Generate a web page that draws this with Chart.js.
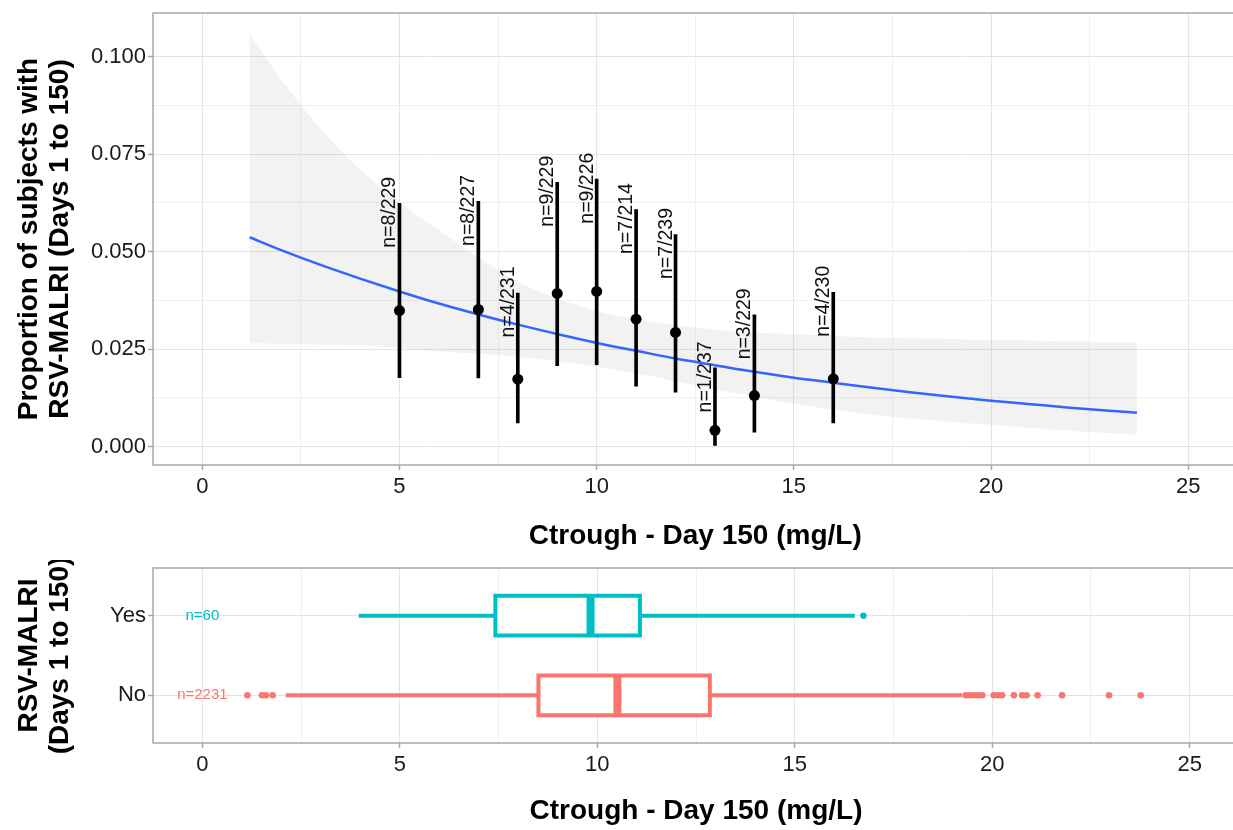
<!DOCTYPE html>
<html>
<head>
<meta charset="utf-8">
<script src="https://cdn.jsdelivr.net/npm/chart.js@4"></script>
<style>
  html, body { margin: 0; padding: 0; background: #fff; overflow: hidden; }
  #wrap { position: relative; width: 1233px; height: 830px; overflow: hidden; }
  canvas { position: absolute; left: 0; }
  #topChart { top: 0; }
  #bottomChart { top: 560px; }
</style>
</head>
<body>
<div id="wrap">
  <canvas id="topChart" width="1243" height="560"></canvas>
  <canvas id="bottomChart" width="1243" height="270"></canvas>
</div>
<script>
// observed proportions by Ctrough bin
const ctroughBins = [5, 7, 8, 9, 10, 11, 12, 13, 14, 16];
const events = [8, 8, 4, 9, 9, 7, 7, 1, 3, 4];
const subjects = [229, 227, 231, 229, 226, 214, 239, 237, 229, 230];
const proportion = [0.0349, 0.0352, 0.0173, 0.0393, 0.0398, 0.0327, 0.0293, 0.0042, 0.0131, 0.0174];
const ciLow = [0.0177, 0.0176, 0.0061, 0.0208, 0.0210, 0.0155, 0.0140, 0.0003, 0.0037, 0.0061];
const ciHigh = [0.0624, 0.0629, 0.0394, 0.0678, 0.0686, 0.0608, 0.0544, 0.0202, 0.0338, 0.0396];

// logistic fit and its band
const fitX = [1.2, 2, 3, 4, 5, 6, 7, 8, 9, 10, 11, 12, 13, 14, 15, 16, 17, 18, 19, 20, 21, 22, 23, 23.7];
const fitY = [0.0537, 0.0504, 0.0466, 0.0431, 0.0398, 0.0367, 0.0339, 0.0313, 0.0289, 0.0266, 0.0246, 0.0226,
  0.0209, 0.0192, 0.0177, 0.0164, 0.0151, 0.0139, 0.0128, 0.0118, 0.0109, 0.0100, 0.0092, 0.0087];
const bandHigh = [0.1056, 0.0942, 0.0815, 0.0711, 0.0627, 0.0555, 0.0485, 0.0422, 0.0380, 0.0348, 0.0326, 0.0311,
  0.0300, 0.0293, 0.0288, 0.0284, 0.0280, 0.0278, 0.0276, 0.0274, 0.0272, 0.0270, 0.0268, 0.0267];
const bandLow = [0.0265, 0.0264, 0.0262, 0.0260, 0.0253, 0.0244, 0.0239, 0.0230, 0.0219, 0.0205, 0.0188, 0.0168,
  0.0148, 0.0128, 0.0110, 0.0095, 0.0082, 0.0072, 0.0063, 0.0056, 0.0048, 0.0041, 0.0035, 0.0031];

// box plot of Ctrough by outcome
const groupNames = ["No", "Yes"];
const groupPos = [1, 2];
const groupN = [2231, 60];
const groupColors = ["#F8766D", "#00BFC4"];
const whiskLo = [2.11, 3.96];
const q1 = [8.51, 7.42];
const median = [10.51, 9.83];
const q3 = [12.85, 11.08];
const whiskHi = [19.24, 16.52];
const outliersNo = [1.14, 1.51, 1.61, 1.78, 19.33, 19.43, 19.54, 19.65, 19.75, 20.04, 20.15, 20.25,
  20.55, 20.76, 20.87, 21.15, 21.77, 22.96, 23.76];
const outliersYes = [16.74];

// ticks
const xMajor = [0, 5, 10, 15, 20, 25];
const xMinor = [2.5, 7.5, 12.5, 17.5, 22.5];
const yMajor = [0, 0.025, 0.05, 0.075, 0.1];
const yMinor = [0.0125, 0.0375, 0.0625, 0.0875];

const FONT = '"Liberation Sans", Arial, sans-serif';
const boxHalf = 0.25;

function isIn(list, v) { return list.some(t => Math.abs(t - v) < 1e-9); }
function tickIn(list, c) { return !!(c && c.tick && isIn(list, c.tick.value)); }
function pts(xs, ys) { return xs.map((x, i) => ({ x: x, y: ys[i] })); }

const gridMajor = "#e4e4e4";
const gridMinor = "#f0f0f0";
const tickGray = "#a8a8a8";

function xScale(height, titlePad) {
  return {
    type: "linear",
    min: -1.25,
    max: 26.25,
    offset: false,
    afterBuildTicks: s => { s.ticks = xMajor.concat(xMinor).sort((a, b) => a - b).map(v => ({ value: v })); },
    afterFit: s => { s.height = height; s.paddingLeft = 0; s.paddingRight = 0; },
    ticks: {
      autoSkip: false, maxRotation: 0, padding: 4, color: "#1a1a1a",
      font: { family: FONT, size: 22 },
      callback: v => isIn(xMajor, v) ? String(v) : ""
    },
    grid: {
      offset: false,
      color: c => tickIn(xMajor, c) ? gridMajor : gridMinor,
      tickColor: c => tickIn(xMajor, c) ? tickGray : "rgba(0,0,0,0)",
      tickLength: 5, tickWidth: 1.5, lineWidth: 1
    },
    border: { display: false },
    title: {
      display: true, text: "Ctrough - Day 150 (mg/L)", color: "#000",
      font: { family: FONT, size: 28, weight: "bold", lineHeight: 1.1 },
      padding: { top: 0, bottom: titlePad }
    }
  };
}

const panelBox = {
  id: "panelBox",
  afterDraw(chart) {
    const { ctx, chartArea: a } = chart;
    ctx.save();
    ctx.strokeStyle = "#a8a8a8";
    ctx.lineWidth = 1.5;
    ctx.strokeRect(a.left, a.top, a.right - a.left, a.bottom - a.top);
    ctx.restore();
  }
};

const barLabels = {
  id: "barLabels",
  afterDatasetsDraw(chart) {
    const { ctx, scales: { x, y } } = chart;
    ctx.save();
    ctx.font = "19.5px " + FONT;
    ctx.fillStyle = "#111";
    ctx.textAlign = "center";
    ctx.textBaseline = "alphabetic";
    ctroughBins.forEach((v, i) => {
      ctx.save();
      ctx.translate(x.getPixelForValue(v) - 4, y.getPixelForValue(ciHigh[i]) + 9);
      ctx.rotate(-Math.PI / 2);
      ctx.fillText("n=" + events[i] + "/" + subjects[i], 0, 0);
      ctx.restore();
    });
    ctx.restore();
  }
};

const nLabels = {
  id: "nLabels",
  afterDatasetsDraw(chart) {
    const { ctx, scales: { x, y } } = chart;
    ctx.save();
    ctx.font = "15px " + FONT;
    ctx.textAlign = "center";
    ctx.textBaseline = "middle";
    groupPos.forEach((p, i) => {
      ctx.fillStyle = groupColors[i];
      ctx.fillText("n=" + groupN[i], x.getPixelForValue(0), y.getPixelForValue(p));
    });
    ctx.restore();
  }
};

const topConfig = {
  type: "scatter",
  data: {
    datasets: [
      {
        type: "scatter", data: pts(ctroughBins, proportion), order: 0,
        pointRadius: 5.5, backgroundColor: "#000", borderWidth: 0
      },
      {
        type: "bar", data: ctroughBins.map((x, i) => ({ x: x, y: [ciLow[i], ciHigh[i]] })), order: 1,
        barThickness: 3, backgroundColor: "#000", borderWidth: 0
      },
      {
        type: "line", data: pts(fitX, fitY), order: 2, showLine: true,
        borderColor: "#3366FF", borderWidth: 2.5, pointRadius: 0, cubicInterpolationMode: "monotone", fill: false
      },
      {
        type: "line", data: pts(fitX, bandLow), order: 4, showLine: true, cubicInterpolationMode: "monotone",
        borderWidth: 0, borderColor: "rgba(0,0,0,0)", pointRadius: 0, fill: false
      },
      {
        type: "line", data: pts(fitX, bandHigh), order: 3, showLine: true, cubicInterpolationMode: "monotone",
        borderWidth: 0, borderColor: "rgba(0,0,0,0)", pointRadius: 0,
        fill: { target: 3 }, backgroundColor: "rgba(150,150,150,0.12)"
      }
    ]
  },
  options: {
    responsive: false,
    animation: false,
    layout: { padding: { top: 13, left: 0, right: 0, bottom: 0 } },
    plugins: { legend: { display: false }, tooltip: { enabled: false } },
    scales: {
      x: xScale(95, 8),
      y: {
        type: "linear",
        min: -0.0047,
        max: 0.1112,
        afterBuildTicks: s => { s.ticks = yMajor.concat(yMinor).sort((a, b) => a - b).map(v => ({ value: v })); },
        afterFit: s => { s.width = 153; s.paddingTop = 0; s.paddingBottom = 0; },
        ticks: {
          autoSkip: false, padding: 2, color: "#1a1a1a",
          font: { family: FONT, size: 22 },
          callback: v => isIn(yMajor, v) ? v.toFixed(3) : ""
        },
        grid: {
          color: c => tickIn(yMajor, c) ? gridMajor : gridMinor,
          tickColor: c => tickIn(yMajor, c) ? tickGray : "rgba(0,0,0,0)",
          tickLength: 5, tickWidth: 1.5, lineWidth: 1
        },
        border: { display: false },
        title: {
          display: true, text: ["Proportion of subjects with", "RSV-MALRI (Days 1 to 150)"], color: "#000",
          font: { family: FONT, size: 28, weight: "bold", lineHeight: 1.1 },
          padding: { top: 13.6, bottom: 0 }
        }
      }
    }
  },
  plugins: [barLabels, panelBox]
};

// box plot datasets built from the summary arrays
const boxSets = [];
groupPos.forEach((p, i) => {
  const col = groupColors[i];
  boxSets.push({
    type: "line", data: [{ x: whiskLo[i], y: p }, { x: whiskHi[i], y: p }], order: 4, showLine: true,
    borderColor: col, borderWidth: 4, pointRadius: 0, fill: false
  });
  boxSets.push({
    type: "line", order: 3, showLine: true,
    data: [{ x: q1[i], y: p - boxHalf }, { x: q3[i], y: p - boxHalf }, { x: q3[i], y: p + boxHalf },
      { x: q1[i], y: p + boxHalf }, { x: q1[i], y: p - boxHalf }],
    borderColor: col, borderWidth: 4, borderJoinStyle: "miter", borderCapStyle: "square", pointRadius: 0,
    fill: "shape", backgroundColor: "#fff"
  });
  boxSets.push({
    type: "line", data: [{ x: median[i], y: p - boxHalf }, { x: median[i], y: p + boxHalf }], order: 2, showLine: true,
    borderColor: col, borderWidth: 8, pointRadius: 0, fill: false
  });
});
boxSets.push({
  type: "scatter", data: outliersNo.map(v => ({ x: v, y: groupPos[0] })), order: 1,
  pointRadius: 3.3, backgroundColor: groupColors[0], borderWidth: 0
});
boxSets.push({
  type: "scatter", data: outliersYes.map(v => ({ x: v, y: groupPos[1] })), order: 1,
  pointRadius: 3.3, backgroundColor: groupColors[1], borderWidth: 0
});

const bottomConfig = {
  type: "scatter",
  data: { datasets: boxSets },
  options: {
    responsive: false,
    animation: false,
    layout: { padding: { top: 8, left: 0, right: 0, bottom: 0 } },
    plugins: { legend: { display: false }, tooltip: { enabled: false } },
    scales: {
      x: xScale(87, 3),
      y: {
        type: "linear",
        min: 0.4,
        max: 2.6,
        afterBuildTicks: s => { s.ticks = groupPos.map(v => ({ value: v })); },
        afterFit: s => { s.width = 153; s.paddingTop = 0; s.paddingBottom = 0; },
        ticks: {
          autoSkip: false, padding: 2, color: "#1a1a1a",
          font: { family: FONT, size: 22 },
          callback: v => groupNames[groupPos.indexOf(v)]
        },
        grid: { color: gridMajor, tickColor: tickGray, tickLength: 5, tickWidth: 1.5, lineWidth: 1 },
        border: { display: false },
        title: {
          display: true, text: ["RSV-MALRI", "(Days 1 to 150)"], color: "#000",
          font: { family: FONT, size: 28, weight: "bold", lineHeight: 1.1 },
          padding: { top: 13.6, bottom: 0 }
        }
      }
    }
  },
  plugins: [nLabels, panelBox]
};

const topChart = new Chart(document.getElementById("topChart"), topConfig);
const bottomChart = new Chart(document.getElementById("bottomChart"), bottomConfig);
</script>
</body>
</html>
